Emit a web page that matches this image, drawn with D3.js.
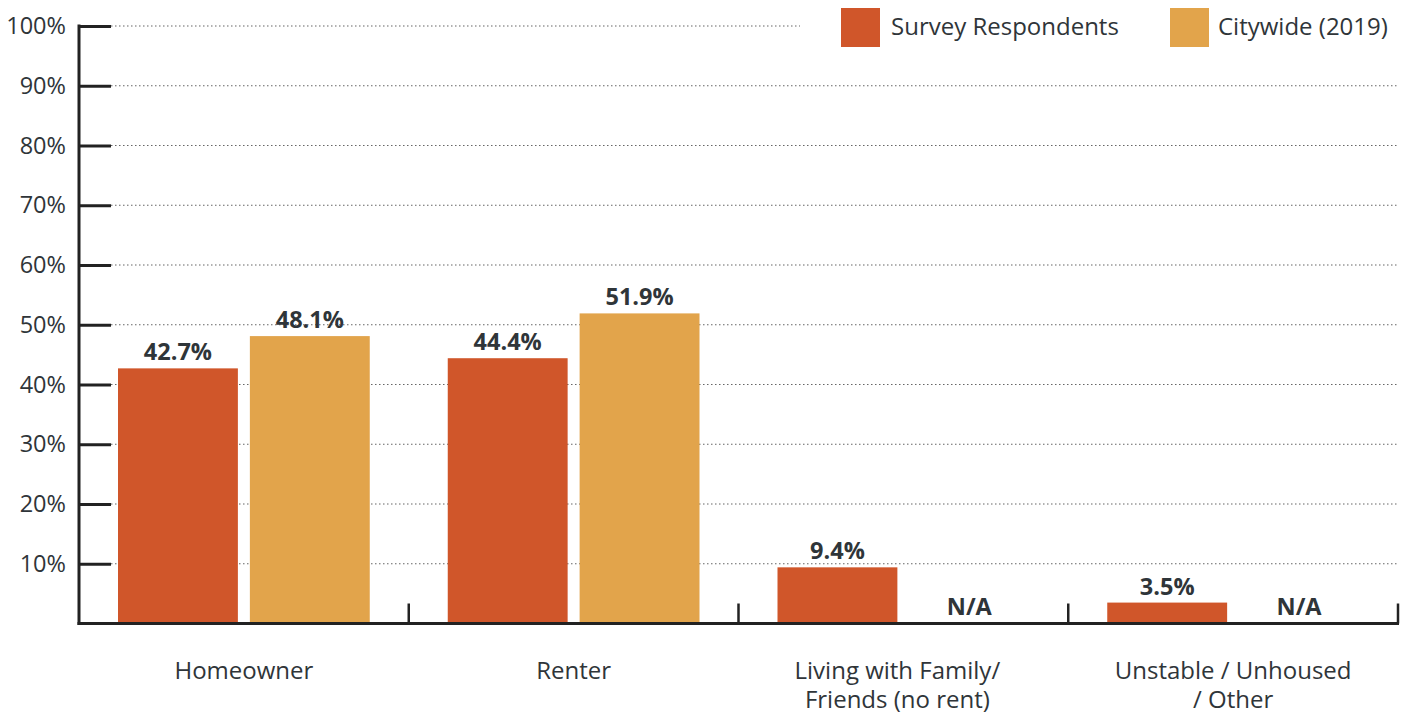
<!DOCTYPE html>
<html><head><meta charset="utf-8">
<script src="https://cdn.jsdelivr.net/npm/d3@7"></script>
<style>body{margin:0;background:#fff}svg{display:block;font-family:"Open Sans",sans-serif}</style>
</head><body>
<svg id="c" width="1409" height="712"></svg>
<script>
const categories = [["Homeowner"], ["Renter"], ["Living with Family/", "Friends (no rent)"], ["Unstable / Unhoused", "/ Other"]];
const catKeys = ["Homeowner", "Renter", "Living", "Unstable"];
const surveyValues = [42.7, 44.4, 9.4, 3.5];
const citywideValues = [48.1, 51.9, null, null];
const seriesNames = ["Survey Respondents", "Citywide (2019)"];
const yTicks = [10, 20, 30, 40, 50, 60, 70, 80, 90, 100];
const colors = ["#D0562A", "#E2A44B"];
const textColor = "#2f3539";
const fs = 23.5;

const svg = d3.select("#c");
const x0 = 79, x1 = 1398, y0 = 623.5, y1 = 26;
const x = d3.scaleBand().domain(catKeys).range([x0, x1]);
const y = d3.scaleLinear().domain([0, 100]).range([y0, y1]);
const inner = d3.scaleBand().domain([0, 1]).range([39, x.bandwidth() - 39]).paddingInner(0.0909);

// grid
const grid = svg.append("g");
yTicks.forEach(t => {
  grid.append("line").attr("x1", 111).attr("x2", t === 100 ? 800 : x1)
    .attr("y1", y(t)).attr("y2", y(t))
    .attr("stroke", "#666").attr("stroke-width", 1.2).attr("stroke-dasharray", "1.5,2.5");
});

// bars
const series = [surveyValues, citywideValues];
series.forEach((vals, si) => {
  vals.forEach((v, i) => {
    const bx = x(catKeys[i]) + inner(si);
    if (v == null) {
      svg.append("text").attr("x", bx + inner.bandwidth() / 2).attr("y", y0 - 9)
        .attr("text-anchor", "middle").attr("font-size", fs).attr("font-weight", 700)
        .attr("fill", textColor).text("N/A");
      return;
    }
    svg.append("rect").attr("x", bx).attr("width", inner.bandwidth())
      .attr("y", y(v)).attr("height", y0 - y(v)).attr("fill", colors[si]);
    svg.append("text").attr("x", bx + inner.bandwidth() / 2).attr("y", y(v) - 8)
      .attr("text-anchor", "middle").attr("font-size", fs).attr("font-weight", 700)
      .attr("fill", textColor).text(v.toFixed(1) + "%");
  });
});

// y axis
const yAxis = d3.axisLeft(y).tickValues(yTicks).tickFormat(d => d + "%").tickSize(0).tickPadding(12);
const ya = svg.append("g").attr("transform", `translate(${x0},0)`).call(yAxis);
ya.select(".domain").remove();
ya.selectAll("text").attr("font-size", fs).attr("fill", textColor).attr("font-family", "Open Sans").attr("dx", -1);
ya.selectAll(".tick").append("line").attr("x1", 0).attr("x2", 32).attr("stroke", "#222").attr("stroke-width", 3);
svg.append("line").attr("x1", x0).attr("x2", x0).attr("y1", y1 - 1.5).attr("y2", y0 + 1.5).attr("stroke", "#222").attr("stroke-width", 3);

// x axis
svg.append("line").attr("x1", x0 - 1.5).attr("x2", x1 + 1).attr("y1", y0).attr("y2", y0).attr("stroke", "#222").attr("stroke-width", 3);
catKeys.forEach(k => {
  const xe = x(k) + x.bandwidth();
  svg.append("line").attr("x1", xe).attr("x2", xe).attr("y1", y0 - 20).attr("y2", y0).attr("stroke", "#222").attr("stroke-width", 2.5);
});
categories.forEach((lines, i) => {
  const cx = x(catKeys[i]) + x.bandwidth() / 2 - (lines.length > 1 && i === 2 ? 6 : 0);
  lines.forEach((l, j) => svg.append("text").attr("x", cx).attr("y", 679 + j * 28.5)
    .attr("text-anchor", "middle").attr("font-size", 24).attr("fill", textColor).text(l));
});

// legend
const legX = [841, 1170];
seriesNames.forEach((n, i) => {
  svg.append("rect").attr("x", legX[i]).attr("y", 8).attr("width", 39).attr("height", 39).attr("fill", colors[i]);
  svg.append("text").attr("x", legX[i] + (i ? 48 : 50)).attr("y", 35).attr("font-size", 24).attr("fill", textColor).text(n);
});
</script>
</body></html>
